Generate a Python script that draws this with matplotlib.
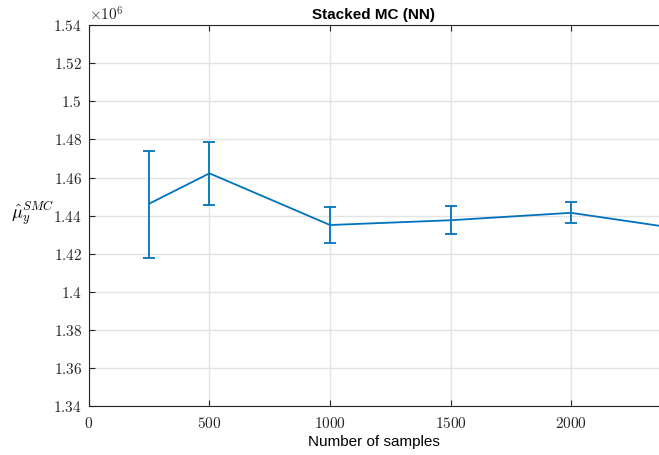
import numpy as np
import matplotlib
matplotlib.use('Agg')
import matplotlib.pyplot as plt

plt.rcParams['mathtext.fontset'] = 'cm'

# samples and stacked MC estimates (x1e6)
n_samples = [250, 500, 1000, 1500, 2000, 2500]
mu_hat = [1.4463, 1.4622, 1.4351, 1.4376, 1.4415, 1.4322]
err_lo = [1.4179, 1.4454, 1.4257, 1.4304, 1.4363, 1.4280]
err_hi = [1.4739, 1.4786, 1.4443, 1.4450, 1.4470, 1.4365]

y_ticks = [1.34, 1.36, 1.38, 1.4, 1.42, 1.44, 1.46, 1.48, 1.5, 1.52, 1.54]
x_ticks = [0, 500, 1000, 1500, 2000]

mu = np.array(mu_hat)
lo = mu - np.array(err_lo)
hi = np.array(err_hi) - mu

fig = plt.figure(figsize=(6.59, 4.55), dpi=100)
ax = fig.add_axes([0.135, 0.107, 0.865, 0.838])

ax.errorbar(n_samples, mu, yerr=[lo, hi], color='#0072BD', lw=1.3,
            elinewidth=1.3, capsize=4.5, capthick=1.3, zorder=3)

ax.set_xlim(0, 2365)
ax.set_ylim(1.34, 1.54)
ax.set_xticks(x_ticks)
ax.set_xticklabels([r'$%d$' % t for t in x_ticks])
ax.set_yticks(y_ticks)
ax.set_yticklabels([r'$%g$' % t for t in y_ticks])

ax.grid(True, color='#E3E3E3', lw=1.0)
ax.set_axisbelow(True)
ax.tick_params(direction='in', length=4, width=0.8, colors='#262626',
               labelsize=11, top=True, right=False)
ax.tick_params(axis='y', pad=5)
ax.tick_params(axis='x', pad=7)
for s in ['left', 'bottom', 'top']:
    ax.spines[s].set_color('#262626')
    ax.spines[s].set_linewidth(0.8)
ax.spines['right'].set_visible(False)

ax.set_title('Stacked MC (NN)', fontsize=11, fontweight='bold',
             family='Liberation Sans', pad=4)
ax.set_xlabel('Number of samples', fontsize=11, family='Liberation Sans',
              labelpad=3)
ax.set_ylabel(r'$\hat{\mu}_y^{SMC}$', fontsize=13, rotation=0,
              va='center', ha='center')
ax.yaxis.set_label_coords(-0.098, 0.507)
ax.text(0.0, 1.003, r'$\times 10^{6}$', transform=ax.transAxes,
        fontsize=11, va='bottom', ha='left', color='#262626')

fig.savefig('out.png', dpi=100)
